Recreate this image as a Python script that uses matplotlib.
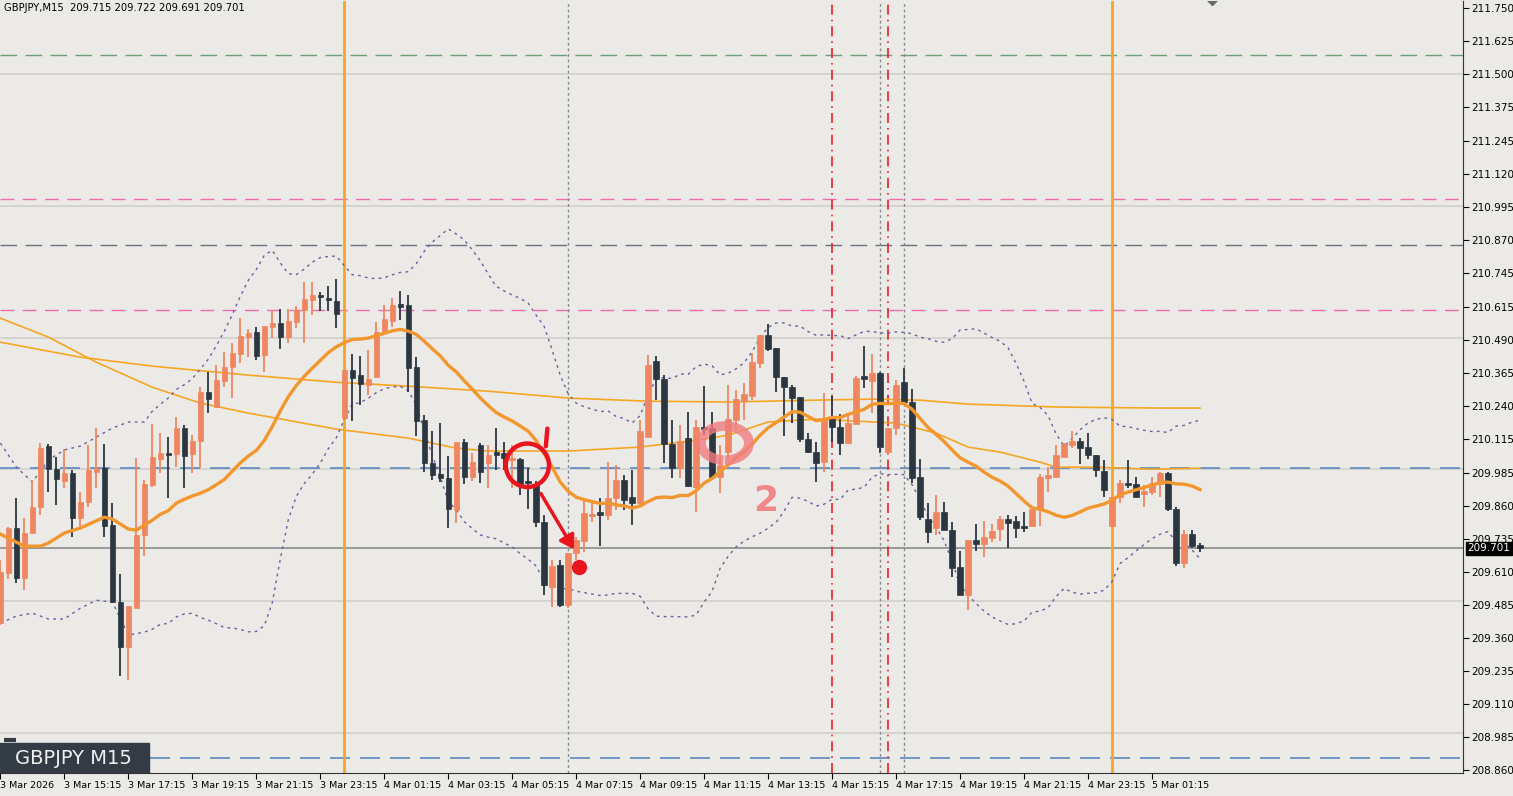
import numpy as np
import matplotlib
matplotlib.use("Agg")
import matplotlib.pyplot as plt
from matplotlib.patches import Ellipse, Arc, Rectangle, FancyArrowPatch

# ---------------- data (GBPJPY M15, from 3 Mar 13:15) ----------------
o = [209.417,209.607,209.778,209.588,209.759,209.857,210.089,210.001,209.956,209.986,
     209.815,209.876,209.990,210.005,209.789,209.497,209.326,209.474,209.751,209.941,
     210.039,210.062,210.058,210.157,210.058,210.107,210.293,210.237,210.335,210.388,
     210.437,210.502,210.521,210.434,210.540,210.555,210.502,210.559,210.604,210.642,
     210.661,210.650,210.638,210.195,210.377,210.358,210.320,210.350,210.517,210.563,
     210.623,210.623,210.388,210.187,210.024,209.982,209.967,209.846,210.104,209.971,
     210.092,210.024,210.062,210.062,210.036,210.039,209.955,209.944,209.800,209.554,
     209.637,209.486,209.683,209.728,209.826,209.838,209.827,209.891,209.960,209.895,
     209.872,210.123,210.411,210.343,210.096,210.005,210.119,209.933,210.161,210.157,
     209.971,210.066,210.187,210.259,210.278,210.403,210.510,210.460,210.350,210.312,
     210.274,210.115,210.066,210.028,210.198,210.161,210.100,210.172,210.354,210.335,
     210.365,210.066,210.157,210.331,210.256,209.971,209.812,209.778,209.838,209.770,
     209.630,209.523,209.732,209.717,209.740,209.774,209.812,209.804,209.785,209.785,
     209.850,209.971,209.971,210.047,210.092,210.107,210.085,210.054,209.994,209.785,
     209.895,209.948,209.944,209.907,209.914,209.944,209.986,209.850,209.645,209.755,
     209.713]
h = [209.656,209.781,209.891,209.815,209.960,210.100,210.096,210.047,210.077,209.998,
     209.914,210.092,210.157,210.096,209.872,209.603,209.482,210.043,209.960,210.172,
     210.138,210.123,210.199,210.168,210.130,210.312,210.369,210.396,210.445,210.479,
     210.574,210.532,210.540,210.544,210.604,210.608,210.608,210.619,210.710,210.710,
     210.673,210.695,210.722,210.377,210.437,210.430,210.453,210.559,210.623,210.650,
     210.676,210.661,210.426,210.206,210.146,210.176,210.051,210.104,210.115,210.062,
     210.100,210.092,210.157,210.104,210.092,210.043,210.005,209.956,209.827,209.656,
     209.656,209.683,209.743,209.891,209.872,209.891,210.028,210.017,209.979,209.998,
     210.187,210.434,210.430,210.358,210.187,210.168,210.218,210.187,210.316,210.218,
     210.092,210.320,210.301,210.328,210.441,210.510,210.551,210.460,210.350,210.320,
     210.274,210.138,210.104,210.290,210.278,210.210,210.214,210.354,210.468,210.437,
     210.369,210.157,210.339,210.384,210.305,210.039,209.872,209.903,209.876,209.800,
     209.690,209.732,209.793,209.804,209.793,209.823,209.827,209.823,209.838,209.850,
     209.982,210.009,210.092,210.100,210.146,210.119,210.138,210.054,210.036,209.895,
     209.960,210.036,209.971,209.941,209.971,209.990,209.990,209.857,209.770,209.770,
     209.721]
l = [209.410,209.584,209.569,209.542,209.838,209.827,209.914,209.865,209.929,209.743,
     209.781,209.857,209.929,209.743,209.497,209.216,209.201,209.474,209.671,209.933,
     209.986,209.891,210.009,209.929,209.986,210.005,210.214,210.237,210.312,210.271,
     210.403,210.426,210.415,210.369,210.498,210.456,210.479,210.536,210.479,210.585,
     210.600,210.600,210.536,210.187,210.183,210.244,210.282,210.350,210.517,210.540,
     210.566,210.293,210.126,209.990,209.960,209.952,209.778,209.797,209.944,209.956,
     209.948,209.929,209.998,209.998,209.929,209.903,209.850,209.781,209.523,209.478,
     209.478,209.474,209.656,209.687,209.800,209.709,209.808,209.846,209.846,209.789,
     209.865,210.123,210.263,210.024,209.967,209.967,209.933,209.838,210.130,209.971,
     209.910,210.036,210.149,210.187,210.263,210.384,210.449,210.293,210.126,210.176,
     210.104,210.062,209.952,209.990,210.104,210.054,210.100,210.172,210.309,210.214,
     210.062,210.054,210.130,210.256,209.948,209.808,209.721,209.751,209.770,209.592,
     209.523,209.467,209.690,209.668,209.724,209.728,209.702,209.740,209.762,209.785,
     209.785,209.914,209.971,210.047,210.081,210.020,210.039,209.971,209.895,209.785,
     209.872,209.929,209.895,209.857,209.903,209.895,209.842,209.633,209.626,209.702,
     209.687]
c = [209.611,209.778,209.588,209.759,209.857,210.081,210.001,209.963,209.986,209.815,
     209.876,209.998,210.005,209.785,209.497,209.326,209.482,209.751,209.944,210.047,
     210.062,210.054,210.157,210.051,210.107,210.293,210.267,210.339,210.388,210.441,
     210.506,210.517,210.430,210.544,210.555,210.502,210.563,210.604,210.646,210.661,
     210.654,210.642,210.589,210.377,210.346,210.324,210.343,210.521,210.570,210.623,
     210.619,210.384,210.183,210.024,209.979,209.967,209.850,210.104,209.971,210.028,
     209.990,210.054,210.058,210.043,210.043,209.944,209.950,209.800,209.561,209.633,
     209.486,209.683,209.732,209.834,209.828,209.827,209.891,209.960,209.884,209.872,
     210.146,210.396,210.343,210.096,210.005,210.107,209.937,210.161,210.153,209.971,
     210.017,210.191,210.267,210.286,210.407,210.510,210.456,210.350,210.312,210.271,
     210.115,210.066,210.024,210.187,210.161,210.100,210.176,210.346,210.343,210.365,
     210.085,210.157,210.320,210.256,209.967,209.819,209.762,209.838,209.770,209.626,
     209.523,209.732,209.717,209.743,209.766,209.812,209.796,209.778,209.778,209.850,
     209.971,209.975,210.054,210.096,210.107,210.081,210.054,209.998,209.922,209.895,
     209.948,209.941,209.895,209.918,209.948,209.986,209.850,209.645,209.755,209.709,
     209.701]

ma_head_idx = [0, 3, 5, 6, 8, 10, 13, 14, 16, 17]
ma_head_val = [209.755, 209.709, 209.709, 209.721, 209.759, 209.778, 209.819, 209.812, 209.774, 209.770]
bb_head_idx = [0, 2, 4, 6, 8, 10, 12, 14, 16, 18]
bb_up_head = [210.100, 210.009, 209.952, 210.036, 210.074, 210.089, 210.123, 210.157, 210.180, 210.180]
bb_lo_head = [209.417, 209.444, 209.455, 209.433, 209.433, 209.474, 209.504, 209.497, 209.372, 209.383]

# slow moving averages
maA_idx = [0, 6, 12, 19, 25, 31, 42, 51, 57, 61, 71, 80, 87, 91, 96, 102, 112, 117, 121, 125, 130, 132, 137, 144, 150]
maA_val = [210.574, 210.502, 210.407, 210.312, 210.252, 210.214, 210.153, 210.119, 210.081, 210.070, 210.070,
           210.085, 210.111, 210.130, 210.180, 210.191, 210.176, 210.138, 210.085, 210.066, 210.028, 210.009,
           210.009, 210.001, 210.005]
maB_idx = [0, 10, 19, 31, 42, 51, 61, 71, 81, 91, 102, 109, 115, 121, 132, 145, 150]
maB_val = [210.483, 210.426, 210.392, 210.358, 210.331, 210.316, 210.297, 210.271, 210.259, 210.256,
           210.263, 210.267, 210.263, 210.248, 210.237, 210.233, 210.233]

hlines_green = [211.571]
hlines_gray = [210.851]
hlines_pink = [211.025, 210.604]
hlines_blue = [210.005, 208.905]
grid_levels = [211.5, 211.0, 210.5, 210.0, 209.5, 209.0]
vl_orange = [43, 139]
vl_red = [104, 111]
vl_dotted = [71, 110, 113]

yticks = [211.750, 211.625, 211.500, 211.375, 211.245, 211.120, 210.995, 210.870, 210.745, 210.615,
          210.490, 210.365, 210.240, 210.115, 209.985, 209.860, 209.735, 209.610, 209.485, 209.360,
          209.235, 209.110, 208.985, 208.860]
xtick_idx = list(range(0, 152, 8))
xtick_lbl = ["3 Mar 2026", "3 Mar 15:15", "3 Mar 17:15", "3 Mar 19:15", "3 Mar 21:15", "3 Mar 23:15",
             "4 Mar 01:15", "4 Mar 03:15", "4 Mar 05:15", "4 Mar 07:15", "4 Mar 09:15", "4 Mar 11:15",
             "4 Mar 13:15", "4 Mar 15:15", "4 Mar 17:15", "4 Mar 19:15", "4 Mar 21:15", "4 Mar 23:15",
             "5 Mar 01:15"]
last_price = 209.701

# ---------------- drawing ----------------
BG = "#ECEAE6"
BULL = "#EF8660"
BEAR = "#2C3640"

fig = plt.figure(figsize=(15.13, 7.96), dpi=100, facecolor=BG)
ax = fig.add_axes([0.0, 0.029, 0.967, 0.9697])
ax.set_facecolor(BG)
n = len(c)
ax.set_xlim(-0.05, 182.9)
ax.set_ylim(208.849, 211.777)

for g in grid_levels:
    ax.axhline(g, color="#D2D0CC", lw=1.2, zorder=0)
for v in hlines_green:
    ax.axhline(v, color="#6E9E78", lw=1, dashes=(12, 6), zorder=1)
for v in hlines_gray:
    ax.axhline(v, color="#6A7080", lw=1, dashes=(12, 6), zorder=1)
for v in hlines_pink:
    ax.axhline(v, color="#F06CB0", lw=1, dashes=(10, 6), zorder=1)
for v in hlines_blue:
    ax.axhline(v, color="#5C88C0", lw=1.2, dashes=(12, 6), zorder=1)
ax.axhline(last_price, color="#8A8A8A", lw=1.2, zorder=1)
for v in vl_orange:
    ax.axvline(v, color="#F5A623", lw=2, zorder=1)
for v in vl_red:
    ax.axvline(v, color="#E8202A", lw=1.2, dashes=(6, 3, 1, 3), zorder=1)
for v in vl_dotted:
    ax.axvline(v, color="#8A8A8A", lw=1, dashes=(2, 2), zorder=1)

# Moving averages
ax.plot(maA_idx, maA_val, color="#F5A623", lw=1.2, zorder=2)
ax.plot(maB_idx, maB_val, color="#F5A623", lw=1.2, zorder=2)
cs = np.array(c)
ma = np.full(n, np.nan)
up = np.full(n, np.nan)
lo = np.full(n, np.nan)
for i in range(19, n):
    w = cs[i - 19:i + 1]
    ma[i] = w.mean()
    sd = w.std()
    up[i] = ma[i] + 2 * sd
    lo[i] = ma[i] - 2 * sd
mx = list(ma_head_idx) + list(range(19, n))
my = list(ma_head_val) + list(ma[19:])
ax.plot(mx, my, color="#F2962E", lw=2.4, zorder=4)
bx = list(bb_head_idx) + list(range(19, n))
ax.plot(bx, list(bb_up_head) + list(up[19:]), color="#6C5FA0", lw=1, dashes=(2, 3), zorder=2)
ax.plot(bx, list(bb_lo_head) + list(lo[19:]), color="#6C5FA0", lw=1, dashes=(2, 3), zorder=2)

# candles
for i in range(n):
    col = BULL if c[i] >= o[i] else BEAR
    ax.vlines(i, l[i], h[i], color=col, lw=1.3, zorder=3)
    b0, b1 = min(o[i], c[i]), max(o[i], c[i])
    if b1 - b0 < 0.006:
        b0 -= 0.003
        b1 += 0.003
    ax.add_patch(Rectangle((i - 0.34, b0), 0.68, b1 - b0, facecolor=col, edgecolor=col, lw=0.5, zorder=3))

# annotations
RED = "#E8141E"
ax.add_patch(Ellipse((65.9, 210.016), 5.4, 0.165, fill=False, edgecolor=RED, lw=3.2, zorder=6))
ax.plot([68.4, 68.2], [210.155, 210.088], color=RED, lw=3.2, solid_capstyle="round", zorder=6)
ax.add_patch(FancyArrowPatch((67.4, 209.918), (71.9, 209.688), arrowstyle="-|>,head_length=8,head_width=5",
                             color=RED, lw=2.5, zorder=6))
ax.plot([72.3], [209.632], "o", color=RED, ms=10, zorder=6)
PINK = "#F27C80"
ax.add_patch(Arc((90.6, 210.10), 6.0, 0.13, theta1=-110, theta2=200, edgecolor=PINK, lw=7, alpha=0.8, zorder=5))
ax.text(95.7, 209.88, "2", color=PINK, fontsize=26, fontweight="bold", ha="center", va="center",
        alpha=0.9, zorder=5)

# axes styling
ax.yaxis.tick_right()
ax.set_yticks(yticks)
ax.set_yticklabels([f"{v:.3f}" for v in yticks])
ax.set_xticks(xtick_idx)
ax.set_xticklabels(xtick_lbl, ha="left")
ax.tick_params(axis="y", labelsize=7.5, length=4, pad=2, colors="#000000")
ax.tick_params(axis="x", labelsize=6.8, length=4, pad=2, colors="#000000")
for lab in ax.get_xticklabels():
    lab.set_x(lab.get_position()[0])
for s in ["top", "left"]:
    ax.spines[s].set_visible(False)
ax.spines["right"].set_color("#333333")
ax.spines["bottom"].set_color("#333333")

ax.text(0.003, 0.998, "GBPJPY,M15  209.715 209.722 209.691 209.701", transform=ax.transAxes,
        fontsize=7.2, va="top", ha="left", color="#000000")
ax.text(1.003, last_price, f"{last_price:.3f}", transform=ax.get_yaxis_transform(), fontsize=7.5,
        color="white", va="center", ha="left",
        bbox=dict(boxstyle="square,pad=0.15", facecolor="#000000", edgecolor="#000000"))
ax.add_patch(Rectangle((0.0, 208.849), 0.1017, 0.112, transform=ax.get_yaxis_transform(),
                       facecolor="#333C45", edgecolor="#333C45", zorder=7))
ax.text(0.05, 208.905, "GBPJPY M15", transform=ax.get_yaxis_transform(), fontsize=14, color="#F0F0F0",
        va="center", ha="center", zorder=8)
ax.plot([1.2], [208.975], marker="_", color="#333C45", ms=8, mew=3, zorder=8)
ax.plot([151.5], [211.79], "D", color="#6A6A6A", ms=7, clip_on=True, zorder=7)

fig.savefig("out.png", dpi=100, facecolor=BG)
